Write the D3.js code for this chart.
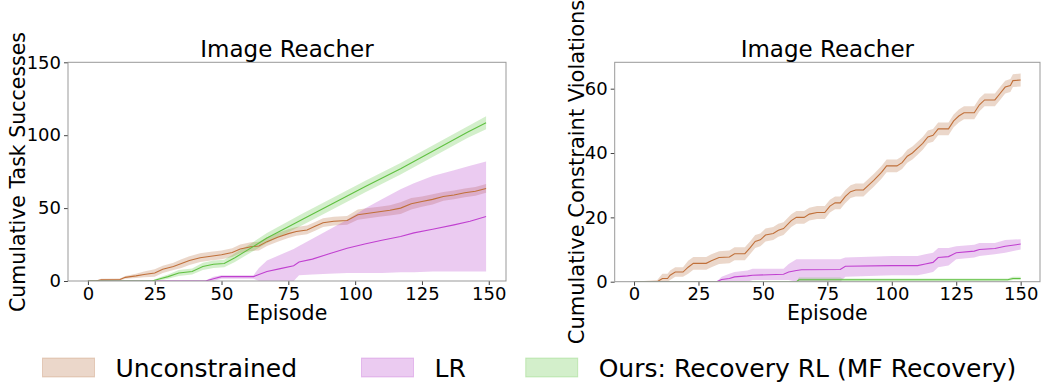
<!DOCTYPE html>
<html>
<head>
<meta charset="utf-8">
<script src="https://cdn.jsdelivr.net/npm/d3@7"></script>
<style>
  body { margin: 0; background: #fff; }
  svg { display: block; font-family: "DejaVu Sans", sans-serif; }
</style>
</head>
<body>
<svg id="chart" width="1058" height="385"></svg>
<script>
// rows are [episode, mean, lower, upper]
const succUnconstrained = [
  [0,0,0,0],[3,0,0,0.3],[5,0.8,0.2,1.5],[12,1,0.3,1.8],[14,2.5,1.5,3.5],[18,3.5,2,5],
  [21,4.5,2.5,6.5],[25,5.5,3,8],[28,8,5.5,10.5],[32,10,7.5,12.5],[35,12,9,15],[38,14,11,17],
  [42,16,13,19],[46,17,14,20],[50,18,15,21],[54,19.5,16.5,22.5],[57,22,19,25],[61,23.5,20.5,26.5],
  [64,24,21,27],[67,27,24,30],[71,30,27,33],[75,32.5,29.5,35.5],[78,34,31,37],[82,35,32,38],
  [85,37.5,34.5,40.5],[88,40,37,43],[92,41,38,44],[97,41.5,38.5,44.5],[101,45.5,42,49],
  [105,46.5,43,50],[109,47.5,44,51],[113,48.5,45,52],[117,50,46,54],[121,53,49,57],
  [125,54.5,51,58],[129,56,52.5,59.5],[133,58,55,61],[137,59,56,62],[141,60.5,57.5,63.5],
  [145,61.5,58.5,64.5],[149,63.5,60.5,66.5]
];
const succLR = [
  [0,0,0,0],[44,0,0,0.3],[47,1.5,0,3],[50,3,1.5,4],[62,3,1.5,4],[64,4.5,0,9],[67,6.5,0,14],
  [72,8.5,0,18],[77,10.5,0,22],[79,13,4,24],[84,15,4.5,29],[90,18.5,5,35],[97,22.5,5.5,42],
  [104,25.5,5.5,50],[110,28,5.5,56],[117,30.5,6,63],[122,33,6,67],[129,35.5,6.5,72],
  [137,38.5,6.5,76],[143,41,6.5,79],[149,44.3,6.5,82]
];
const succOurs = [
  [0,0,0,0],[24,0,0,0.3],[27,1.5,0.5,2.5],[30,3,1.5,4.5],[34,5.5,3.5,7.5],[39,6.5,4.5,8.5],
  [43,10,7.5,12.5],[47,11.5,9,14],[51,12,9.5,14.5],[55,16,13,19],[60,21.5,18.5,24.5],
  [67,29.5,26,33],[80,42,38,46],[92,53.5,49.5,57.5],[104,65,61,69],[117,77,73,81],
  [129,89,85,93],[142,102,98,106],[149,108.5,104,113]
];

const violUnconstrained = [
  [0,0,0,0],[9,0,0,0.5],[11,1,0,2.5],[13,1,0,2.5],[14,2,0.5,3.5],[16,3,1.5,4.5],[19,3,1.5,4.5],
  [21,4.5,2.5,6.5],[23,5.7,3.7,7.7],[28,5.7,3.7,7.7],[30,6.5,4.5,8.5],[33,7.5,5.5,9.5],
  [37,7.7,5.7,9.7],[39,8.7,6.7,10.7],[43,8.7,6.7,10.7],[45,10.5,8.5,12.5],[47,12.5,10.5,14.5],
  [49,13,11,15],[51,14.5,12.5,16.5],[54,15,13,17],[56,16,14,18],[58,16.5,14.5,18.5],
  [61,19,17,21],[63,20,18,22],[66,20,18,22],[68,21,19,23],[71,21.5,19.5,23.5],[74,21.5,19.5,23.5],
  [76,23.5,21.5,25.5],[78,24.5,22.5,26.5],[80,24.5,22.5,26.5],[82,26.5,24.5,28.5],
  [84,28,26,30],[86,28.5,26.5,30.5],[89,28.5,26.5,30.5],[91,30,28,32],[93,31.5,29.5,33.5],
  [96,34,32,36],[98,36,34,38],[102,36,34,38],[104,37,35,39],[106,39,37,41],[108,40,38,42],
  [110,41.5,39.5,43.5],[112,43,41,45],[114,45,43,47],[116,45.5,43.5,47.5],[118,47.5,45.5,49.5],
  [122,47.5,45.5,49.5],[124,50,48,52],[126,51.5,49.5,53.5],[128,52.5,50.5,54.5],
  [132,52.5,50.5,54.5],[134,55,53,57],[136,56.5,54.5,58.5],[140,56.5,54.5,58.5],
  [142,58.5,56.5,60.5],[144,60.5,58.5,62.5],[146,61,59,63],[147,62.5,60.5,64.5],[150,62.7,60.7,64.7]
];
const violLR = [
  [0,0,0,0],[32,0,0,0],[34,0.7,0,1.5],[37,1,0,2.5],[39,1.5,0,3],[44,1.8,0,3.5],[46,2,0.5,4],
  [58,2.3,0.5,4],[60,3,0.5,5.5],[63,3.5,0,7],[65,3.7,0,7],[80,3.8,0,7],[82,4.8,1.5,7.5],
  [100,5,2,8],[110,5,2,8],[113,5.5,2.5,8.5],[116,6,3,9],[118,7.5,4.5,10.5],[122,7.8,5,10.5],
  [125,9,7,11],[132,9.5,7.5,11.5],[134,10,8,12],[140,10.3,8.5,12],[144,11,9,13],[150,11.7,10,13.2]
];
const violOurs = [
  [0,0,0,0],[63,0,0,0],[64,0.6,0,1.3],[80,0.6,0,1.3],[81,0.6,0.2,1],[145,0.6,0.2,1],
  [147,1,0.5,1.5],[150,1,0.5,1.5]
];

const seriesNames = ["Unconstrained", "LR", "Ours: Recovery RL (MF Recovery)"];
const lineColors = ["#c0703a", "#c040d0", "#5fc040"];
const bandColors = ["#b0602a", "#b030c8", "#50c030"];
const xTicks = [0, 25, 50, 75, 100, 125, 150];
const succTicks = [0, 50, 100, 150];
const violTicks = [0, 20, 40, 60];

const svg = d3.select("#chart");

function drawPanel(opt) {
  const x = d3.scaleLinear().domain(opt.xDomain).range([opt.left, opt.right]);
  const y = d3.scaleLinear().domain(opt.yDomain).range([opt.bottom, opt.top]);
  const g = svg.append("g");

  const clipId = "clip" + opt.id;
  g.append("clipPath").attr("id", clipId).append("rect")
    .attr("x", opt.left).attr("y", opt.top)
    .attr("width", opt.right - opt.left).attr("height", opt.bottom - opt.top);

  const plot = g.append("g").attr("clip-path", `url(#${clipId})`);

  const area = d3.area().x(d => x(d[0])).y0(d => y(d[2])).y1(d => y(d[3]));
  const line = d3.line().x(d => x(d[0])).y(d => y(d[1]));

  // bands first, then the mean lines on top
  opt.series.forEach((s, i) => {
    plot.append("path").attr("d", area(s))
      .attr("fill", bandColors[i]).attr("fill-opacity", 0.25);
  });
  opt.series.forEach((s, i) => {
    plot.append("path").attr("d", line(s))
      .attr("fill", "none").attr("stroke", lineColors[i]).attr("stroke-width", 1.1);
  });

  // axes
  g.append("g").attr("transform", `translate(0,${opt.bottom})`)
    .call(d3.axisBottom(x).tickValues(xTicks).tickSize(4).tickPadding(2).tickSizeOuter(0))
    .call(a => a.select(".domain").remove())
    .call(a => a.selectAll("line").attr("stroke", "#444"))
    .call(a => a.selectAll("text").attr("font-size", 18).attr("fill", "#000")
      .attr("font-family", "DejaVu Sans"));

  g.append("g").attr("transform", `translate(${opt.left},0)`)
    .call(d3.axisLeft(y).tickValues(opt.yTicks).tickSize(4).tickPadding(3).tickSizeOuter(0))
    .call(a => a.select(".domain").remove())
    .call(a => a.selectAll("line").attr("stroke", "#444"))
    .call(a => a.selectAll("text").attr("font-size", 18).attr("fill", "#000")
      .attr("font-family", "DejaVu Sans"));

  // frame
  g.append("rect")
    .attr("x", opt.left).attr("y", opt.top)
    .attr("width", opt.right - opt.left).attr("height", opt.bottom - opt.top)
    .attr("fill", "none").attr("stroke", "#999").attr("stroke-width", 1);

  // title and labels
  g.append("text").attr("x", (opt.left + opt.right) / 2).attr("y", 57)
    .attr("text-anchor", "middle").attr("font-size", 23).text("Image Reacher");

  g.append("text").attr("x", (opt.left + opt.right) / 2).attr("y", 320)
    .attr("text-anchor", "middle").attr("font-size", 20.5).text("Episode");

  g.append("text")
    .attr("transform", `translate(${opt.ylabelX},${opt.ylabelY}) rotate(-90)`)
    .attr("text-anchor", "middle").attr("font-size", opt.ylabelSize).text(opt.ylabel);
}

drawPanel({
  id: 1, series: [succUnconstrained, succLR, succOurs],
  xDomain: [-7.45, 156.45], yDomain: [0, 150], yTicks: succTicks,
  left: 68, right: 506, top: 62.3, bottom: 281,
  ylabel: "Cumulative Task Successes", ylabelX: 25, ylabelY: 172, ylabelSize: 20.5
});

drawPanel({
  id: 2, series: [violUnconstrained, violLR, violOurs],
  xDomain: [-7.5, 157.5], yDomain: [0, 68.2], yTicks: violTicks,
  left: 614.7, right: 1040, top: 62.3, bottom: 281.7,
  ylabel: "Cumulative Constraint Violations", ylabelX: 584, ylabelY: 172, ylabelSize: 21
});

// legend
const legendX = [42.5, 361.5, 525.7];
const legend = svg.append("g");
seriesNames.forEach((name, i) => {
  legend.append("rect")
    .attr("x", legendX[i]).attr("y", 358).attr("width", 52).attr("height", 19)
    .attr("fill", bandColors[i]).attr("fill-opacity", 0.25)
    .attr("stroke", bandColors[i]).attr("stroke-opacity", 0.25);
  legend.append("text")
    .attr("x", legendX[i] + 73).attr("y", 376.5)
    .attr("font-size", 25).text(name);
});
</script>
</body>
</html>
